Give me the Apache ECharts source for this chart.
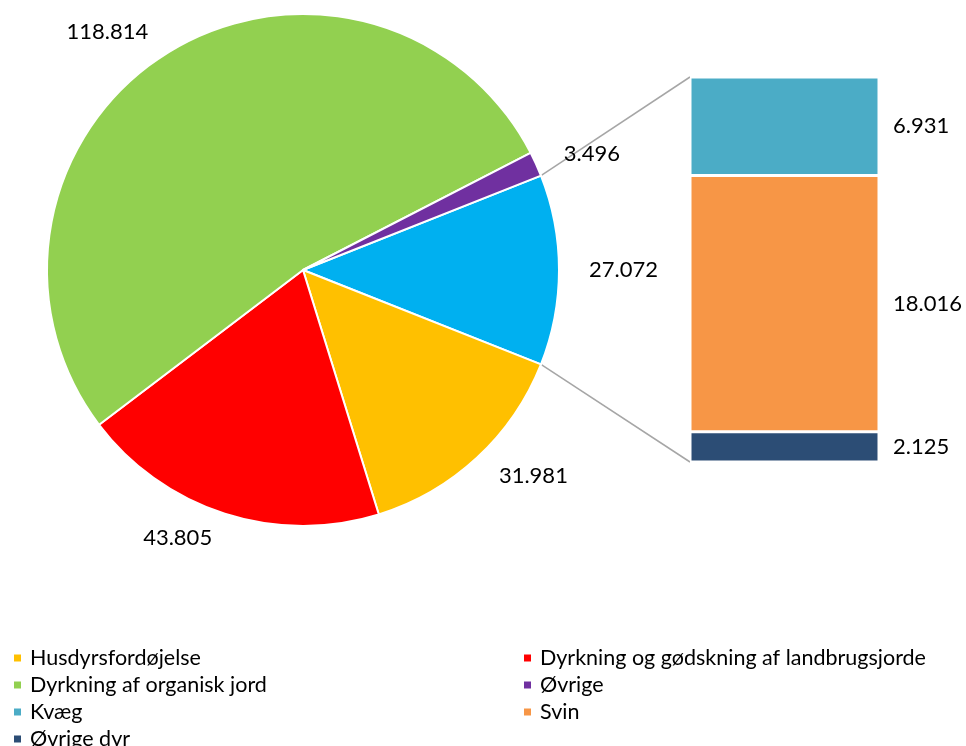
<!DOCTYPE html>
<html>
<head>
<meta charset="utf-8">
<script src="https://cdn.jsdelivr.net/npm/echarts@6/dist/echarts.min.js"></script>
<style>
  html, body { margin: 0; padding: 0; background: #fff; }
  #main { width: 966px; height: 746px; }
</style>
</head>
<body>
<div id="main"></div>
<script>
// pie slices, starting with the one that is split out into the bar
const pieNames = ['Husdyr', 'Husdyrsfordøjelse', 'Dyrkning og gødskning af landbrugsjorde', 'Dyrkning af organisk jord', 'Øvrige'];
const pieValues = [27.072, 31.981, 43.805, 118.814, 3.496];
const pieColors = ['#00B0F0', '#FFC000', '#FF0000', '#92D050', '#7030A0'];

// bar, bottom to top
const barNames = ['Øvrige dyr', 'Svin', 'Kvæg'];
const barValues = [2.125, 18.016, 6.931];
const barColors = ['#2C4D75', '#F79646', '#4BACC6'];

// legend order, read row by row in two columns
const legendOrder = ['Husdyrsfordøjelse', 'Dyrkning og gødskning af landbrugsjorde',
  'Dyrkning af organisk jord', 'Øvrige', 'Kvæg', 'Svin', 'Øvrige dyr'];

const FONT = 'Lato';
const pieCenter = [303, 270];
const pieRadius = 256;
const barGrid = { left: 690, right: 87, top: 77, bottom: 284 };

const total = pieValues.reduce((a, b) => a + b, 0);
const splitTotal = barValues.reduce((a, b) => a + b, 0);
const halfAngle = pieValues[0] / total * 180; // split slice centered on 3 o'clock

const chart = echarts.init(document.getElementById('main'), null, { renderer: 'canvas' });

const fmt = v => v.toFixed(3);

const legendText = { fontFamily: FONT, fontSize: 21.5, color: '#000', lineHeight: 22, padding: [0, 0, 0, 3] };
const legends = legendOrder.map((name, i) => ({
  left: i % 2 === 0 ? 12 : 522,
  top: 647 + Math.floor(i / 2) * 27,
  orient: 'horizontal', padding: 0,
  icon: 'rect', itemWidth: 9, itemHeight: 9,
  data: [name],
  textStyle: legendText
}));

let option = {
  animation: false,
  textStyle: { fontFamily: FONT },
  legend: legends,
  grid: { left: barGrid.left, right: barGrid.right, top: barGrid.top, bottom: barGrid.bottom },
  xAxis: { type: 'category', data: ['Husdyr'], show: false },
  yAxis: { type: 'value', min: 0, max: splitTotal, show: false, splitLine: { show: false } },
  series: [
    {
      type: 'pie',
      center: pieCenter,
      radius: pieRadius,
      startAngle: halfAngle,
      clockwise: true,
      avoidLabelOverlap: false,
      itemStyle: { borderColor: '#fff', borderWidth: 2 },
      label: {
        position: 'outside',
        formatter: p => fmt(p.value),
        fontFamily: FONT, fontSize: 22, color: '#000'
      },
      labelLine: { show: false, length: 25, length2: 0 },
      emphasis: { disabled: true },
      data: pieNames.map((n, i) => ({ name: n, value: pieValues[i], itemStyle: { color: pieColors[i] } }))
    },
    ...barNames.map((n, i) => ({
      type: 'bar',
      name: n,
      stack: 'split',
      barWidth: '100%',
      data: [barValues[i]],
      itemStyle: { color: barColors[i], borderColor: '#fff', borderWidth: 1.5 },
      label: {
        show: true, position: 'right', distance: 14,
        formatter: p => fmt(p.value),
        fontFamily: FONT, fontSize: 22, color: '#000'
      },
      emphasis: { disabled: true }
    }))
  ]
};

chart.setOption(option);

// connector lines from the split slice to the bar
function drawConnectors() {
  const a = halfAngle * Math.PI / 180;
  const px = pieCenter[0] + pieRadius * Math.cos(a);
  const pyTop = pieCenter[1] - pieRadius * Math.sin(a);
  const pyBot = pieCenter[1] + pieRadius * Math.sin(a);
  const top = chart.convertToPixel({ yAxisIndex: 0 }, splitTotal);
  const bot = chart.convertToPixel({ yAxisIndex: 0 }, 0);
  const bx = barGrid.left;
  chart.setOption({
    graphic: [
      { type: 'line', shape: { x1: px, y1: pyTop, x2: bx, y2: top }, style: { stroke: '#A6A6A6', lineWidth: 1.5 }, silent: true },
      { type: 'line', shape: { x1: px, y1: pyBot, x2: bx, y2: bot }, style: { stroke: '#A6A6A6', lineWidth: 1.5 }, silent: true }
    ]
  });
}
drawConnectors();
</script>
</body>
</html>
